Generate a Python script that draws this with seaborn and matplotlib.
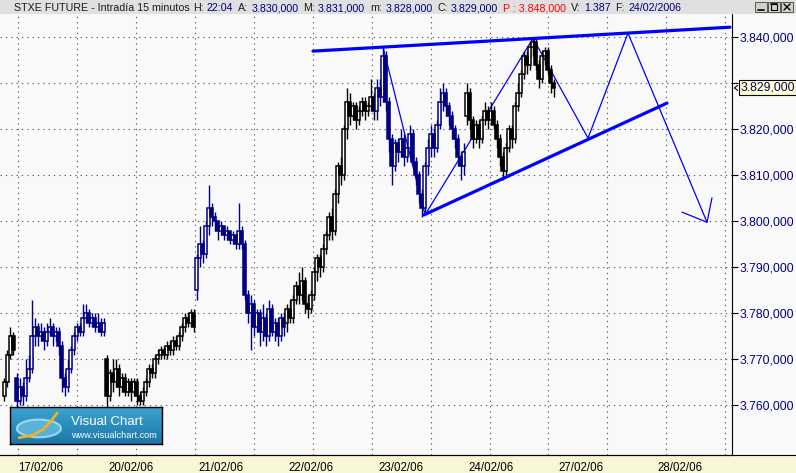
import numpy as np
import matplotlib
matplotlib.use("Agg")
import matplotlib.pyplot as plt
import seaborn as sns
from matplotlib.patches import Rectangle, Ellipse
from matplotlib.lines import Line2D
from matplotlib.colors import LinearSegmentedColormap

# ---- data (intraday candles, 30 bars per session here) ----
day_labels = ["17/02/06", "20/02/06", "21/02/06", "22/02/06",
              "23/02/06", "24/02/06", "27/02/06", "28/02/06"]
day_ticks = [0, 1, 2, 3, 4, 5, 6, 7.1]

d16_open = 3762
d16_close = [3765, 3771, 3775, 3772]
d16_high = [3766, 3772, 3777, 3776]
d16_low = [3761, 3764, 3770, 3771]

d17_open = 3766
d17_close = [3761, 3764, 3762, 3766, 3768, 3775, 3777, 3775, 3776, 3774,
             3776, 3777, 3775, 3776, 3773, 3766, 3764, 3768, 3772, 3775,
             3777, 3776, 3779, 3780, 3778, 3779, 3777, 3778, 3776, 3778]
d17_high = [3767, 3766, 3765, 3770, 3771, 3783, 3779, 3778, 3778, 3777,
            3778, 3779, 3778, 3777, 3777, 3774, 3767, 3770, 3773, 3776,
            3778, 3778, 3782, 3782, 3781, 3780, 3780, 3780, 3779, 3779]
d17_low = [3759, 3760, 3760, 3761, 3765, 3767, 3773, 3773, 3774, 3772,
           3773, 3775, 3773, 3774, 3771, 3763, 3762, 3763, 3767, 3771,
           3774, 3775, 3775, 3778, 3777, 3777, 3776, 3776, 3775, 3775]

d20_open = 3770
d20_close = [3762, 3767, 3765, 3768, 3764, 3766, 3763, 3765, 3763, 3765,
             3762, 3761, 3763, 3765, 3768, 3767, 3770, 3771, 3772, 3771,
             3773, 3772, 3774, 3773, 3775, 3777, 3779, 3778, 3780, 3777]
d20_high = [3771, 3768, 3770, 3770, 3769, 3767, 3767, 3766, 3766, 3766,
            3766, 3763, 3764, 3766, 3769, 3769, 3771, 3772, 3773, 3773,
            3774, 3774, 3775, 3775, 3776, 3778, 3780, 3780, 3781, 3781]
d20_low = [3759, 3761, 3763, 3764, 3762, 3763, 3762, 3762, 3761, 3762,
           3760, 3760, 3760, 3762, 3764, 3766, 3766, 3769, 3770, 3770,
           3770, 3771, 3771, 3772, 3772, 3774, 3776, 3777, 3777, 3776]

d21_open = 3785
d21_close = [3792, 3795, 3793, 3799, 3803, 3801, 3800, 3798, 3799, 3797,
             3798, 3796, 3797, 3795, 3798, 3795, 3784, 3780, 3782, 3777,
             3780, 3776, 3779, 3775, 3781, 3776, 3778, 3775, 3779, 3777]
d21_high = [3793, 3799, 3796, 3800, 3808, 3804, 3802, 3800, 3800, 3799,
            3799, 3798, 3798, 3797, 3804, 3799, 3796, 3785, 3784, 3783,
            3781, 3781, 3782, 3780, 3783, 3782, 3779, 3779, 3780, 3780]
d21_low = [3783, 3790, 3791, 3792, 3797, 3799, 3798, 3796, 3797, 3796,
           3796, 3795, 3795, 3794, 3794, 3794, 3783, 3778, 3772, 3775,
           3776, 3773, 3774, 3773, 3774, 3775, 3774, 3773, 3774, 3775]

d22_open = 3778
d22_close = [3781, 3779, 3783, 3786, 3784, 3787, 3782, 3781, 3784, 3789,
             3792, 3790, 3794, 3797, 3801, 3798, 3806, 3812, 3810, 3820,
             3826, 3823, 3825, 3822, 3824, 3826, 3824, 3825, 3827, 3824]
d22_high = [3782, 3783, 3784, 3787, 3789, 3790, 3788, 3784, 3785, 3790,
            3793, 3793, 3795, 3798, 3802, 3803, 3807, 3813, 3814, 3821,
            3829, 3828, 3826, 3826, 3825, 3827, 3827, 3826, 3831, 3828]
d22_low = [3776, 3778, 3778, 3782, 3782, 3783, 3780, 3779, 3780, 3783,
           3787, 3788, 3789, 3793, 3796, 3796, 3797, 3804, 3808, 3809,
           3818, 3821, 3822, 3820, 3821, 3823, 3822, 3823, 3824, 3822]

d23_open = 3824
d23_close = [3829, 3827, 3836, 3826, 3818, 3812, 3817, 3815, 3818, 3814,
             3816, 3819, 3813, 3810, 3806, 3803, 3812, 3816, 3819, 3816,
             3821, 3826, 3828, 3825, 3823, 3820, 3818, 3814, 3812, 3815]
d23_high = [3831, 3831, 3838, 3837, 3827, 3819, 3818, 3818, 3820, 3819,
            3817, 3821, 3820, 3814, 3811, 3807, 3813, 3818, 3821, 3820,
            3822, 3829, 3830, 3829, 3826, 3824, 3821, 3819, 3815, 3817]
d23_low = [3822, 3825, 3826, 3824, 3815, 3808, 3811, 3813, 3814, 3812,
           3813, 3814, 3812, 3808, 3804, 3801, 3802, 3810, 3814, 3814,
           3815, 3820, 3824, 3823, 3821, 3818, 3816, 3812, 3809, 3810]

d24_open = 3823
d24_close = [3828, 3822, 3818, 3821, 3818, 3822, 3824, 3822, 3824, 3821,
             3818, 3814, 3811, 3816, 3820, 3818, 3825, 3828, 3832, 3836,
             3834, 3838, 3839, 3834, 3831, 3836, 3837, 3833, 3830, 3829]
d24_high = [3830, 3829, 3823, 3822, 3822, 3823, 3826, 3825, 3826, 3825,
            3822, 3819, 3815, 3817, 3821, 3821, 3826, 3830, 3833, 3837,
            3837, 3839, 3840, 3840, 3835, 3837, 3838, 3838, 3834, 3831]
d24_low = [3821, 3820, 3816, 3817, 3816, 3817, 3821, 3820, 3821, 3820,
           3816, 3812, 3809, 3810, 3815, 3816, 3817, 3824, 3827, 3831,
           3832, 3833, 3836, 3833, 3829, 3830, 3834, 3832, 3828, 3827]

# hand drawn lines (day position, price)
upper_t = [3.311, 7.944]
upper_p = [3837.0, 3842.2]
lower_t = [4.544, 7.244]
lower_p = [3801.4, 3825.7]
zig_t = [4.089, 4.556, 5.756, 6.367, 6.811, 7.689]
zig_p = [3837.9, 3801.4, 3839.8, 3818.1, 3840.9, 3799.8]
arrow_t = [7.411, 7.689, 7.744]
arrow_p = [3802.0, 3799.8, 3805.1]

last_price = 3829

# header: sequence of (text, colour key)
header_parts = [("STXE FUTURE - Intradía 15 minutos", "k"),
                ("H:", "k"), ("22:04", "n"), ("A:", "k"), ("3.830,000", "n"),
                ("M:", "k"), ("3.831,000", "n"), ("m:", "k"), ("3.828,000", "n"),
                ("C:", "k"), ("3.829,000", "n"), ("P : 3.848,000", "r"),
                ("V:", "k"), ("1.387", "n"), ("F:", "k"), ("24/02/2006", "n")]

# ---- style ----
sns.set_style("white")
plt.rcParams["font.family"] = ["Liberation Sans", "DejaVu Sans"]

navy = "#000080"
bg = "#f9f9f9"
W, H = 796, 473

fig = plt.figure(figsize=(W / 100, H / 100), dpi=100, facecolor=bg)
ax = fig.add_axes([0, 1 - 455 / H, 732 / W, (455 - 14) / H])
ax.set_facecolor(bg)


def prect(x0, y0, x1, y1, **kw):
    r = Rectangle((x0 / W, 1 - y1 / H), (x1 - x0) / W, (y1 - y0) / H,
                  transform=fig.transFigure, **kw)
    fig.add_artist(r)


def pline(xs, ys, **kw):
    fig.add_artist(Line2D([x / W for x in xs], [1 - y / H for y in ys],
                          transform=fig.transFigure, **kw))


# candles
days = [(-1, 26, d16_open, d16_close, d16_high, d16_low, "black"),
        (0, 0, d17_open, d17_close, d17_high, d17_low, navy),
        (1, 0, d20_open, d20_close, d20_high, d20_low, "black"),
        (2, 0, d21_open, d21_close, d21_high, d21_low, navy),
        (3, 0, d22_open, d22_close, d22_high, d22_low, "black"),
        (4, 0, d23_open, d23_close, d23_high, d23_low, navy),
        (5, 0, d24_open, d24_close, d24_high, d24_low, "black")]

bar_w = 0.8 / 30
for d, i0, op, cl, hi, lo, col in days:
    x = d + (np.arange(i0, i0 + len(cl)) + 0.5) / 30
    opens = np.array([op] + cl[:-1])
    closes = np.array(cl)
    ax.vlines(x, lo, hi, color=col, lw=1.0, zorder=3)
    up = closes >= opens
    bottom = np.minimum(opens, closes)
    height = np.maximum(np.abs(closes - opens), 0.3)
    ax.bar(x[up], height[up], bottom=bottom[up], width=bar_w,
           facecolor="white", edgecolor=col, lw=1.1, zorder=4)
    ax.bar(x[~up], height[~up], bottom=bottom[~up], width=bar_w,
           facecolor=col, edgecolor=col, lw=1.1, zorder=4)

# drawn lines
sns.lineplot(x=zig_t, y=zig_p, sort=False, estimator=None, color="#0000ff",
             lw=0.9, ax=ax, zorder=2)
sns.lineplot(x=arrow_t, y=arrow_p, sort=False, estimator=None, color="#0000ff",
             lw=0.9, ax=ax, zorder=2)
sns.lineplot(x=upper_t, y=upper_p, sort=False, estimator=None, color="#0000ff",
             lw=2.3, ax=ax, zorder=5)
sns.lineplot(x=lower_t, y=lower_p, sort=False, estimator=None, color="#0000ff",
             lw=2.3, ax=ax, zorder=5)

ax.set_xlim(-15 / 90, 717 / 90)
ax.set_ylim(3749.2, 3845.07)

# axes, ticks
for s in ["left", "top"]:
    ax.spines[s].set_visible(False)
for s in ["right", "bottom"]:
    ax.spines[s].set_color("black")
    ax.spines[s].set_linewidth(0.8)

yt = np.arange(3760, 3841, 10)
ax.yaxis.tick_right()
ax.set_yticks(yt)
# the 3.830 label sits under the last-price box
ax.set_yticklabels(["" if v == 3830 else f"{v // 1000}.{v % 1000:03d},000"
                    for v in yt])
ax.tick_params(axis="y", direction="out", length=4.3, width=0.8, pad=1,
               colors="black", labelcolor=navy, labelsize=8.7)

grid_x = 2.0 + 0.6546 * np.arange(-3, 10)
ax.set_xticks(day_ticks)
ax.set_xticklabels([])
ax.set_xticks(grid_x, minor=True)
ax.tick_params(axis="x", which="major", direction="out", length=7.2,
               width=0.8, colors="black")
ax.tick_params(axis="x", which="minor", direction="out", length=3,
               width=0.8, colors="black")
ax.grid(False)
ax.set_xlabel("")
ax.set_ylabel("")

# dotted grid drawn explicitly
dots = dict(color="#606060", lw=0.8, linestyle=(0, (1.2, 3.6)), zorder=1)
ax.hlines(yt, -15 / 90, 717 / 90, **dots)
ax.vlines(grid_x, 3749.2, 3845.07, **dots)

# bottom strip and date labels
prect(0, 455.5, 796, 473, facecolor="#f7f7d6", edgecolor="none", zorder=-1)
pline([0, 796], [455, 455], color="black", lw=0.8)
for t, lab in zip(day_ticks, day_labels):
    ax.annotate(lab, xy=(t, 0), xycoords=("data", "axes fraction"),
                xytext=(3, -16), textcoords="offset pixels", ha="left",
                va="baseline", fontsize=8.3, color="black", annotation_clip=False)

# header bar, texts chained one after the other
prect(0, 0, 796, 14, facecolor="#e0e0e0", edgecolor="none")
hcol = {"k": "#1a1a1a", "n": navy, "r": "#ff0000"}
renderer = fig.canvas.get_renderer()
x = 14
for txt, c in header_parts:
    th = fig.text(x / W, 1 - 11.3 / H, txt, color=hcol[c], fontsize=7.7,
                  ha="left", va="baseline")
    x = th.get_window_extent(renderer).x1 + (3 if c == "k" else 5)
for bx in [755, 768, 781]:
    prect(bx, 2, bx + 12, 12, facecolor="#d4d0c8", edgecolor="#404040", lw=0.6)
pline([758, 764], [10, 10], color="black", lw=1.2)
prect(771, 4, 777, 10, facecolor="none", edgecolor="black", lw=0.8)
pline([771, 777], [4.5, 4.5], color="black", lw=1.2)
pline([784, 790], [4, 10], color="black", lw=1.0)
pline([784, 790], [10, 4], color="black", lw=1.0)

# last price box
py = 37.3 + (3840 - last_price) * 4.6
prect(739, py - 7.5, 796, py + 7.5, facecolor="#ffffc8", edgecolor="black",
      lw=0.8, zorder=6)
fig.text(741 / W, 1 - py / H, "3.829,000", color=navy, fontsize=8.7,
         ha="left", va="center", zorder=7)
pline([737.5, 734.5, 737.5], [py - 2.5, py, py + 2.5], color="black", lw=0.8)

# Visual Chart logo
lax = fig.add_axes([10 / W, 1 - 444 / H, 152 / W, 37 / H], zorder=6)
cmap = LinearSegmentedColormap.from_list("vc", ["#3da2cf", "#1a78a8"])
lax.imshow(np.linspace(0, 1, 40).reshape(-1, 1), cmap=cmap, aspect="auto",
           extent=[0, 1, 0, 1])
lax.set_xlim(0, 1)
lax.set_ylim(0, 1)
lax.set_xticks([])
lax.set_yticks([])
for s in lax.spines.values():
    s.set_color("black")
    s.set_linewidth(1.0)
lax.add_patch(Ellipse((0.19, 0.42), 0.29, 0.48, facecolor="#5cb8e0",
                      edgecolor="#a8dcf4", lw=1.5, alpha=0.9))
lax.plot([0.06, 0.15, 0.22, 0.27, 0.31], [0.17, 0.24, 0.40, 0.62, 0.84],
         color="#f0b020", lw=2.0, solid_capstyle="round")
lax.text(0.40, 0.51, "Visual Chart", color="white", fontsize=9.5,
         ha="left", va="baseline")
lax.text(0.40, 0.17, "www.visualchart.com", color="white", fontsize=6.6,
         ha="left", va="baseline")

fig.savefig("out.png", dpi=100, facecolor=bg)
